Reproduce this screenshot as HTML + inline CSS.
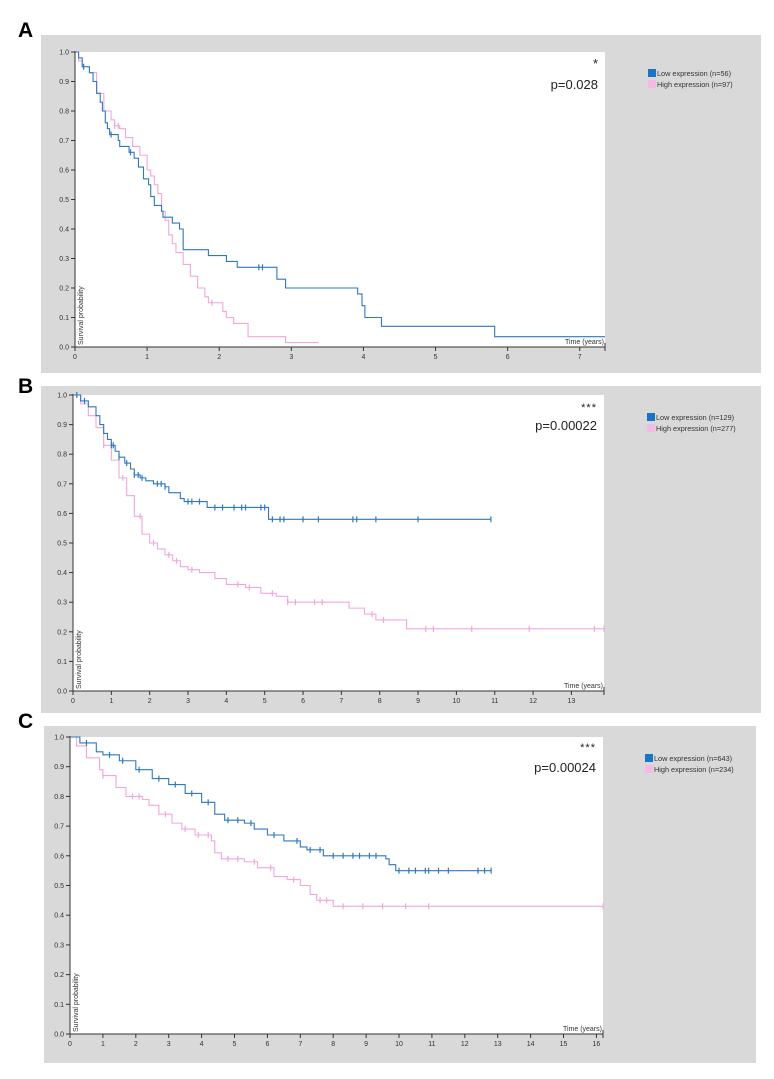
<!DOCTYPE html>
<html><head><meta charset="utf-8"><style>
html,body{margin:0;padding:0;background:#fff;width:774px;height:1079px;overflow:hidden}
svg{display:block}
text{font-family:"Liberation Sans",sans-serif}
</style></head><body>
<svg id="fig" width="774" height="1079" viewBox="0 0 774 1079" xmlns="http://www.w3.org/2000/svg"></svg>
<script>
// ---- Panel A data ----
const aLowT=[0,0.05,0.1,0.2,0.25,0.3,0.35,0.38,0.42,0.45,0.48,0.6,0.62,0.75,0.82,0.88,0.95,1.02,1.05,1.1,1.2,1.22,1.35,1.45,1.5,1.85,2.1,2.25,2.8,2.92,3.92,3.98,4.02,4.25,5.82];
const aLowS=[1,0.98,0.95,0.93,0.9,0.86,0.83,0.8,0.76,0.74,0.72,0.7,0.68,0.66,0.64,0.61,0.57,0.55,0.51,0.48,0.46,0.44,0.42,0.4,0.33,0.31,0.29,0.27,0.23,0.2,0.18,0.14,0.1,0.07,0.035];
const aLowCens=[0.12,0.5,0.77,2.55,2.6];
const aHighT=[0,0.05,0.1,0.2,0.3,0.4,0.5,0.55,0.62,0.7,0.8,0.9,1.0,1.05,1.1,1.15,1.2,1.25,1.3,1.35,1.4,1.5,1.6,1.7,1.8,1.85,2.05,2.1,2.2,2.4,2.92];
const aHighS=[1,0.97,0.95,0.93,0.86,0.8,0.77,0.75,0.74,0.71,0.68,0.65,0.6,0.58,0.55,0.52,0.46,0.43,0.38,0.35,0.32,0.28,0.24,0.2,0.17,0.15,0.12,0.1,0.08,0.035,0.015];
const aHighCens=[0.55,0.6,1.9];
const aLowEnd=7.35, aHighEnd=3.38;
// ---- Panel B data ----
const bLowT=[0,0.2,0.4,0.6,0.7,0.8,0.9,1.0,1.1,1.2,1.35,1.5,1.6,1.75,1.9,2.1,2.4,2.5,2.8,2.9,3.5,5.1];
const bLowS=[1,0.98,0.96,0.93,0.9,0.87,0.85,0.83,0.81,0.79,0.77,0.75,0.73,0.72,0.71,0.7,0.69,0.67,0.65,0.64,0.62,0.58];
const bLowCens=[0.1,0.3,1.0,1.05,1.2,1.4,1.6,1.7,1.8,2.2,2.3,2.4,3.0,3.1,3.3,3.7,3.9,4.2,4.4,4.5,4.9,5.0,5.2,5.4,5.5,6.0,6.4,7.3,7.4,7.9,9.0,10.9];
const bHighT=[0,0.2,0.4,0.6,0.8,1.0,1.2,1.4,1.6,1.8,2.0,2.2,2.4,2.6,2.8,3.0,3.3,3.7,4.0,4.5,4.9,5.3,5.6,7.2,7.6,7.9,8.7];
const bHighS=[1,0.97,0.93,0.89,0.83,0.78,0.72,0.66,0.59,0.53,0.5,0.48,0.46,0.44,0.42,0.41,0.4,0.38,0.36,0.35,0.33,0.32,0.3,0.28,0.26,0.24,0.21];
const bHighCens=[0.8,1.3,1.75,2.1,2.5,2.7,3.1,4.3,4.6,5.2,5.6,5.8,6.3,6.5,7.8,8.1,9.2,9.4,10.4,11.9,13.6,13.85];
const bLowEnd=10.9, bHighEnd=13.85;
// ---- Panel C data ----
const cLowT=[0,0.3,0.8,1.0,1.5,2.0,2.5,3.0,3.5,4.0,4.4,4.7,5.3,5.6,6.0,6.5,7.0,7.2,7.7,9.6,9.7,9.9];
const cLowS=[1,0.98,0.95,0.94,0.92,0.89,0.86,0.84,0.81,0.78,0.74,0.72,0.71,0.69,0.67,0.65,0.63,0.62,0.6,0.59,0.57,0.55];
const cLowCens=[0.5,1.2,1.6,2.1,2.7,3.2,3.7,4.2,4.8,5.1,5.5,6.2,6.9,7.3,7.6,8.0,8.3,8.6,8.8,9.1,9.3,10.0,10.3,10.5,10.8,10.9,11.2,11.5,12.4,12.6,12.8];
const cLowEnd=12.8;
const cHighT=[0,0.2,0.5,0.9,1.0,1.4,1.7,2.2,2.4,2.7,3.1,3.4,3.8,4.3,4.4,4.6,5.3,5.7,6.2,6.6,7.0,7.3,7.5,8.0];
const cHighS=[1,0.97,0.93,0.89,0.87,0.83,0.8,0.79,0.77,0.74,0.71,0.69,0.67,0.65,0.61,0.59,0.58,0.56,0.53,0.52,0.5,0.47,0.45,0.43];
const cHighCens=[1.0,1.9,2.1,2.9,3.5,3.9,4.2,4.8,5.1,5.6,6.1,6.8,7.6,7.8,8.3,8.9,9.5,10.2,10.9,16.2];
const cHighEnd=16.2;
// ---- labels ----
const panelLetters=["A","B","C"];
const pValues=["p=0.028","p=0.00022","p=0.00024"];
const stars=["*","***","***"];
const lowLegend=["Low expression (n=56)","Low expression (n=129)","Low expression (n=643)"];
const highLegend=["High expression (n=97)","High expression (n=277)","High expression (n=234)"];
const yTicks=[0,0.1,0.2,0.3,0.4,0.5,0.6,0.7,0.8,0.9,1.0];
const xMaxTick=[7,13,16];

const NS="http://www.w3.org/2000/svg";
const svg=document.getElementById('fig');
function el(tag,attrs,parent,txt){const e=document.createElementNS(NS,tag);for(const k in attrs)e.setAttribute(k,attrs[k]);if(txt!==undefined)e.textContent=txt;(parent||svg).appendChild(e);return e;}

const layouts=[
 {gx:41,gy:35,gw:720,gh:338,x0:75,x1:605,y0:347,y1:52,xmax:7.35,letterY:37,legX:648,legY:69,pY:89,sY:68},
 {gx:41,gy:386,gw:720,gh:327,x0:73,x1:604,y0:691,y1:395,xmax:13.85,letterY:393,legX:647,legY:413,pY:430,sY:411},
 {gx:44,gy:726,gw:712,gh:337,x0:70,x1:603,y0:1034,y1:737,xmax:16.2,letterY:728,legX:645,legY:754,pY:772,sY:751}
];
const series=[
 [[aLowT,aLowS,aLowCens,aLowEnd],[aHighT,aHighS,aHighCens,aHighEnd]],
 [[bLowT,bLowS,bLowCens,bLowEnd],[bHighT,bHighS,bHighCens,bHighEnd]],
 [[cLowT,cLowS,cLowCens,cLowEnd],[cHighT,cHighS,cHighCens,cHighEnd]]
];
const colors=["#2f78c0","#f2a6dc"];
const names=["low","high"];

layouts.forEach((L,i)=>{
  const g=el('g',{});
  
  
  const bg=el('rect',{x:L.gx,y:L.gy,width:L.gw,height:L.gh,fill:'#d9d9d9'},g);
  
  
  const pa=el('rect',{x:L.x0,y:L.y1,width:L.x1-L.x0,height:L.y0-L.y1,fill:'#fff'},g);
  
  
  const lt=el('text',{x:18,y:L.letterY,'font-size':21,'font-weight':'bold',fill:'#000'},g,panelLetters[i]);
  
  
  const X=t=>L.x0+t/L.xmax*(L.x1-L.x0);
  const Y=s=>L.y0-s*(L.y0-L.y1);
  // axes
  const ax=el('g',{},g);
  
  
  el('line',{x1:L.x0,y1:L.y1-1,x2:L.x0,y2:L.y0,stroke:'#333','stroke-width':1},ax);
  el('line',{x1:L.x0,y1:L.y0,x2:L.x1,y2:L.y0,stroke:'#333','stroke-width':1},ax);
  yTicks.forEach(v=>{
    el('line',{x1:L.x0-4,y1:Y(v),x2:L.x0,y2:Y(v),stroke:'#333'},ax);
    const t=el('text',{x:L.x0-6,y:Y(v)+2.5,'font-size':7,'text-anchor':'end',fill:'#333'},ax,v.toFixed(1));
    
    
  });
  for(let k=0;k<=xMaxTick[i];k++){
    el('line',{x1:X(k),y1:L.y0,x2:X(k),y2:L.y0+4,stroke:'#333'},ax);
    const t=el('text',{x:X(k),y:L.y0+12,'font-size':7,'text-anchor':'middle',fill:'#333'},ax,String(k));
    
    
  }
  el('line',{x1:L.x1,y1:L.y0-4,x2:L.x1,y2:L.y0+4,stroke:'#333'},ax);
  const yt=el('text',{transform:`translate(${L.x0+8},${L.y0-2}) rotate(-90)`,'font-size':7,fill:'#333'},ax,'Survival probability');
  
  
  const xt=el('text',{x:L.x1-1,y:L.y0-3,'font-size':7,'text-anchor':'end',fill:'#333'},ax,'Time (years)');
  
  
  // curves (high first so blue is on top)
  [1,0].forEach(j=>{
    const [T,S,C,end]=series[i][j];
    let d=`M${X(T[0])},${Y(S[0])}`;
    for(let k=1;k<T.length;k++){d+=` H${X(T[k])} V${Y(S[k])}`;}
    d+=` H${X(end)}`;
    const p=el('path',{d:d,fill:'none',stroke:colors[j],'stroke-width':1.1},g);
    
    
    C.forEach(c=>{
      let s=S[0];for(let k=0;k<T.length;k++){if(T[k]<=c)s=S[k];}
      const m=el('line',{x1:X(c),y1:Y(s)-3,x2:X(c),y2:Y(s)+3,stroke:colors[j],'stroke-width':1.2},g);
      
      
    });
  });
  const st=el('text',{x:L.x1-7,y:L.sY,'font-size':i?11:13,'text-anchor':'end',fill:'#222','letter-spacing':i?'1':'0'},g,stars[i]);
  
  
  const pv=el('text',{x:L.x1-7,y:L.pY,'font-size':13,'text-anchor':'end',fill:'#222'},g,pValues[i]);
  
  
  // legend
  const lg=el('g',{},g);
  
  
  [[lowLegend[i],'#1a74c6'],[highLegend[i],'#f5b9e6']].forEach(([txt,col],k)=>{
    const e=el('g',{},lg);
    
    
    el('rect',{x:L.legX,y:L.legY+k*11,width:8,height:8,fill:col},e);
    el('text',{x:L.legX+9,y:L.legY+k*11+7,'font-size':7.3,fill:'#333'},e,txt);
  });
});
</script>
</body></html>
